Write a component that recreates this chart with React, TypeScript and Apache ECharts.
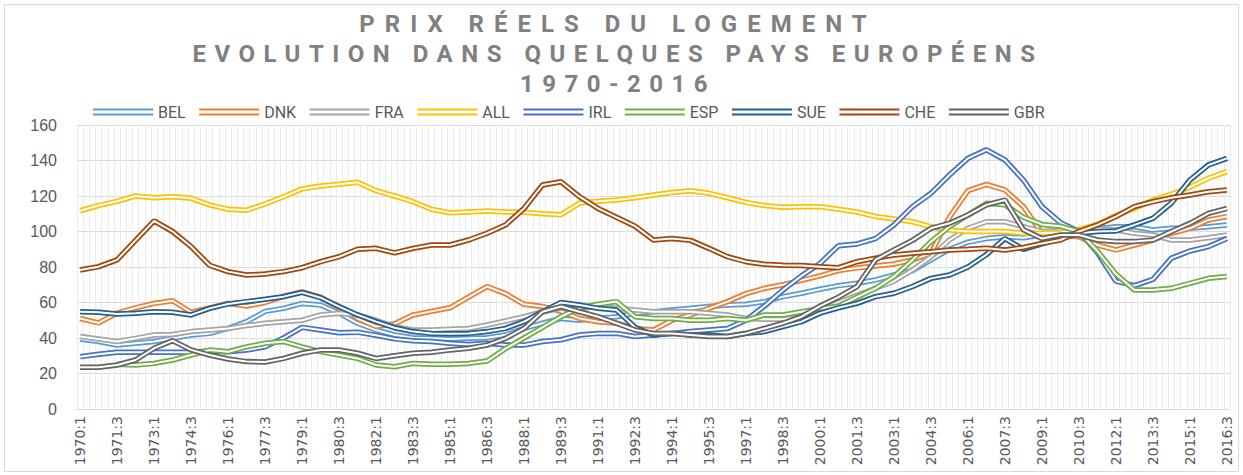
import React, { useEffect, useRef } from "react";
import * as echarts from "echarts";

// Quarterly categories 1970:1 .. 2016:3
const QUARTERS: string[] = [];
for (let y = 1970; y <= 2016; y++) {
  for (let q = 1; q <= 4; q++) {
    if (y === 2016 && q > 3) break;
    QUARTERS.push(`${y}:${q}`);
  }
}

// values read every 3 quarters (index 0, 3, 6, ... 186)
const STEP = 3;

const NAMES = ["BEL", "DNK", "FRA", "ALL", "IRL", "ESP", "SUE", "CHE", "GBR"];
const COLORS = ["#5B9BD5", "#ED7D31", "#A5A5A5", "#FFC000", "#4472C4", "#70AD47", "#255E91", "#9E480E", "#636363"];

const BEL = [39.4, 38, 36, 37, 38, 39.8, 41.7, 42.6, 45.4, 49.2, 55, 56.7, 59.5, 58.6, 54, 48.3, 44.5, 41.7, 40.2, 39.8, 39.5, 39.8, 40.2, 41.7, 45.4, 48.3,
  51, 50, 51, 52, 54, 54.8, 55.8, 56.7, 57.7, 58.6, 59, 60.5, 63.3, 65.2, 67.5, 69.5, 70.8, 72.7, 75.5, 78, 84,
  90, 94, 96, 97, 96.5, 98, 99.5, 100.8, 101.5, 102.7, 102.7, 100.8, 101.8, 101.8, 102.7, 103.7];
const DNK = [51, 48.5, 54, 57, 59.5, 61, 54.5, 57, 59.5, 58, 60, 63.5, 66, 63, 57, 51, 46.5, 48, 53, 55, 57, 63, 69, 65, 59, 57.7, 55, 51, 49.2, 48.3, 45.4,
  44.5, 50, 53, 56.7, 60.5, 65, 68, 70, 72.5, 75, 78, 79.5, 80.6, 81.7, 84, 87.7, 108, 123, 126.5, 123.4, 114, 99, 98, 97, 92.4, 89.6, 92.4, 95.2, 99, 101.8, 106.5, 108.4];
const FRA = [40.8, 39.4, 38, 39.8, 41.7, 42, 43.6, 44.5, 45.4, 47, 48.3, 49.2, 50, 53, 54, 53, 50, 46.4, 44.5, 44.5, 45, 45.4, 47.3, 49.6, 52, 54.8, 56.7,
  56.7, 57.7, 56.7, 55.8, 54.8, 54.8, 54.8, 54, 53, 51, 50.5, 50.5, 52, 56, 60, 64, 68, 72, 78.3, 85.8, 95.2, 101.8, 105.5, 105.5, 102.7, 100, 100.5, 101, 101.5, 100.8, 99, 98, 95.2, 95.2, 96.5, 98];
const ALL = [111.7, 114.6, 117, 120, 119, 119.6, 118.7, 115, 112.5, 112, 115.5, 119.6, 124, 125.6, 126.6, 127.7, 123, 120, 116.8, 112.5, 110.5, 111, 111.5, 111, 110.8, 110, 109.5, 116, 117, 117.7, 119, 120.6, 122, 123, 121.5, 119, 116.4, 114.6, 113.6, 114, 114, 112.5,
  111, 108.5, 107, 105.5, 102.7, 100.8, 100, 100, 100, 99, 99, 99.5, 101, 104, 109, 113, 117.7, 121, 125, 130, 133.7];
const IRL = [29.5, 30.8, 32, 32, 32, 32, 32, 32.7, 32.3, 33.2, 35, 40, 46, 44.5, 43, 43.3, 41.5, 39.5, 38.5, 38, 37, 36.4, 37, 36, 36, 38,
  39, 41.7, 42.6, 42.6, 40.8, 41.7, 42.6, 43.6, 44.5, 45.4, 50, 58, 67, 75, 82, 92, 93, 96, 103.7, 114, 121.5, 131.8, 141.2, 146, 140.3, 129, 114, 105, 100, 88, 72, 69.5, 73, 85, 89, 91.5, 96];
const ESP = [null, null, 25.2, 24.8, 25.7, 27.6, 30.4, 33.2, 32.3, 35, 37, 38, 35, 32.3, 30.4, 28.5, 24.8, 23.8, 25.7, 25.2, 25.2, 25.7, 27, 34, 40, 46, 52,
  57, 59, 60.5, 52, 51, 51, 50, 50, 51, 50, 53, 53, 54.8, 56.5, 58, 63, 68, 74.6, 84, 94.3, 102.7, 109.3, 115.9, 115, 108, 104, 103, 100, 89, 76, 67, 67, 68, 70.8, 73.6, 74.6];
const SUE = [54.8, 54.5, 53.5, 54, 54.8, 54.5, 53, 56.7, 59.2, 60.5, 61.8, 63.3, 65.7, 62.7, 57.7, 53, 49.2, 45.8, 43.6, 42.6, 42.4, 42.6, 43.6, 45.4, 49.2, 54.8,
  60, 58.6, 56.7, 55.8, 46, 41.7, 42.6, 41.7, 41.7, 40.8, 42.6, 43.6, 46.4, 49.2, 54, 57, 59.5, 63.3, 65.2, 69, 73.6, 75.5, 80, 87, 96, 90, 93, 96, 99, 100, 100.3, 103.7, 107.4, 116, 129, 137.5, 141.2];
const CHE = [78.3, 80.2, 84, 95, 106, 100, 91.5, 81, 77.4, 75.5, 76, 77.4, 79.6, 83, 85.8, 90, 90.5, 88, 90.5, 92.4, 92.4, 95.2, 99, 103.7, 113, 126.2, 128, 119.6, 113, 108, 103, 95.2, 96, 95, 90.5, 85.8, 83, 81.5, 81, 80.8, 80.2, 79.6,
  83, 85, 86.8, 87.7, 88.6, 89.6, 90, 90.5, 89.6, 91, 93.3, 95.2, 100, 103.7, 108.4, 114, 116.8, 119, 120.6, 122.4, 123.4];
const GBR = [23.5, 23.5, 24.8, 27.6, 34.2, 38.5, 33.3, 30.4, 28.2, 26.7, 26.5, 28.5, 31.4, 33.3, 33.3, 31.4, 28.5, 30, 31.4, 32, 33.3, 34.2, 36, 39.8, 45.4, 54.8,
  57.7, 54.8, 52, 48.3, 44.5, 42.6, 42.6, 41.7, 40.8, 40.8, 42.6, 45.4, 48.3, 52, 58, 63, 69, 84, 89.6, 95, 101.8, 104.6, 109.3, 115, 117.7, 101, 96, 98, 98, 95.2, 94.3, 94.3, 95.2, 100, 104.6, 110.2, 113];

const VALUES = [BEL, DNK, FRA, ALL, IRL, ESP, SUE, CHE, GBR];

const TITLE_LINES = ["PRIX RÉELS DU LOGEMENT", "EVOLUTION DANS QUELQUES PAYS EUROPÉENS", "1970-2016"];
const TITLE_SPACING = ["10px", "8.5px", "8.5px"];

const DOUBLE_ICON = "path://M0,0L60,0L60,2L0,2Z M0,5L60,5L60,7L0,7Z";

function toPairs(vals: (number | null)[]) {
  return vals
    .map((v, k) => [k * STEP, v] as [number, number | null])
    .filter((p) => p[1] !== null);
}

export default function App() {
  const ref = useRef<HTMLDivElement>(null);

  useEffect(() => {
    const el = ref.current!;
    const chart = echarts.init(el, undefined, { renderer: "svg" });

    const series: any[] = [];
    NAMES.forEach((name, idx) => {
      const data = toPairs(VALUES[idx]);
      series.push({
        name,
        type: "line",
        data,
        symbol: "none",
        connectNulls: true,
        lineStyle: { width: 5.5, color: COLORS[idx] },
        itemStyle: { color: COLORS[idx] },
        emphasis: { disabled: true },
      });
      series.push({
        name: "_" + name,
        type: "line",
        data,
        symbol: "none",
        connectNulls: true,
        silent: true,
        lineStyle: { width: 2, color: "#ffffff" },
        itemStyle: { color: "#ffffff" },
        emphasis: { disabled: true },
      });
    });

    const option: any = {
      animation: false,
      graphic: [
        {
          type: "rect",
          silent: true,
          z: -10,
          shape: { x: 4.5, y: 4.5, width: 1234, height: 467 },
          style: { fill: "#ffffff", stroke: "#d9d9d9", lineWidth: 1 },
        },
        ...TITLE_LINES.map((t, k) => ({
          type: "text",
          silent: true,
          x: 618,
          y: 24 + k * 30,
          style: {
            text: t,
            textAlign: "center",
            textVerticalAlign: "middle",
            fontSize: 24,
            fontWeight: "bold",
            fontFamily: "Roboto",
            fill: "#808080",
          },
        })),
      ],
      legend: {
        left: 88,
        top: 99,
        itemWidth: 60,
        itemHeight: 7,
        itemGap: 13.5,
        itemStyle: { borderWidth: 0 },
        selectedMode: false,
        textStyle: { color: "#595959", fontSize: 16, fontFamily: "Roboto", width: 45 },
        data: NAMES.map((n) => ({ name: n, icon: DOUBLE_ICON })),
      },
      grid: { left: 77, right: 13, top: 125, bottom: 66, containLabel: false },
      xAxis: {
        type: "category",
        data: QUARTERS,
        boundaryGap: true,
        axisLine: { lineStyle: { color: "#d9d9d9" } },
        axisTick: { show: false },
        axisLabel: {
          interval: 5,
          rotate: 90,
          color: "#595959",
          fontSize: 14,
          fontFamily: "DejaVu Sans",
          margin: 7,
        },
        splitLine: { show: true, interval: 0, lineStyle: { color: "#ececec", width: 1 } },
      },
      yAxis: {
        type: "value",
        min: 0,
        max: 160,
        interval: 20,
        axisLine: { show: false },
        axisTick: { show: false },
        axisLabel: { color: "#595959", fontSize: 16, fontFamily: "Liberation Sans", margin: 20 },
        splitLine: { lineStyle: { color: "#d9d9d9" } },
      },
      series,
    };

    chart.setOption(option);

    const applySpacing = () => {
      el.querySelectorAll("text").forEach((t) => {
        const k = TITLE_LINES.indexOf((t.textContent || "").trim());
        if (k >= 0) t.setAttribute("letter-spacing", TITLE_SPACING[k]);
      });
    };
    applySpacing();
    chart.on("finished", applySpacing);
    const raf = requestAnimationFrame(applySpacing);

    return () => {
      cancelAnimationFrame(raf);
      chart.dispose();
    };
  }, []);

  return (
    <div
      ref={ref}
      style={{ position: "absolute", left: 0, top: 0, width: 1243, height: 475, background: "#fff" }}
    />
  );
}
